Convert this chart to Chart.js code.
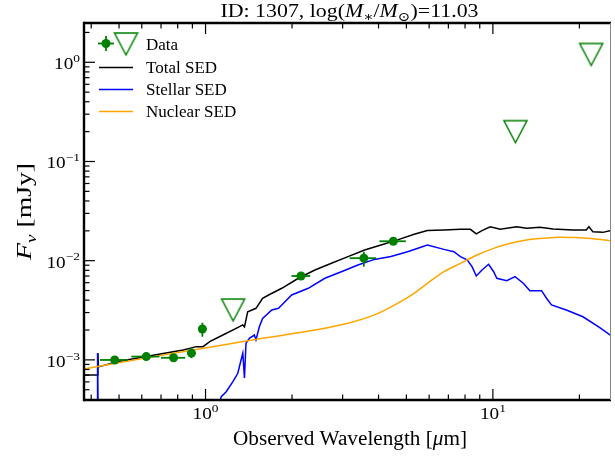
<!DOCTYPE html>
<html>
<head>
<meta charset="utf-8">
<script src="https://cdn.jsdelivr.net/npm/chart.js@4.4.0/dist/chart.umd.min.js"></script>
<style>
  html, body { margin: 0; padding: 0; background: #fff; }
</style>
</head>
<body>
<canvas id="sed" width="615" height="457"></canvas>
<script>
// photometry (mJy) with x/y error ranges
var dataWave   = [0.483, 0.622, 0.774, 0.893, 0.975, 2.149, 3.556, 4.503];
var dataFlux   = [9.98e-4, 1.08e-3, 1.05e-3, 1.17e-3, 2.05e-3, 7.01e-3, 1.06e-2, 1.57e-2];
var dataWaveLo = [0.429, 0.552, 0.700, 0.865, 0.942, 1.990, 3.174, 4.030];
var dataWaveHi = [0.536, 0.691, 0.850, 0.925, 1.010, 2.314, 3.921, 4.979];
var dataFluxLo = [9.98e-4, 1.08e-3, 1.05e-3, 1.04e-3, 1.71e-3, 6.75e-3, 8.70e-3, 1.57e-2];
var dataFluxHi = [9.98e-4, 1.08e-3, 1.05e-3, 1.31e-3, 2.37e-3, 7.30e-3, 1.23e-2, 1.57e-2];

// upper limits
var limitWave = [1.247, 11.98, 21.98];
var limitFlux = [3.18e-3, 0.200, 1.20];

// model SEDs
var totalWave = [0.3775, 0.420, 0.422, 0.424, 0.492, 0.642, 0.836, 0.929, 0.980, 1.034, 1.149, 1.278, 1.348, 1.366, 1.402,
  1.498, 1.580, 1.657, 1.842, 2.104, 2.403, 2.742, 3.131, 3.576, 4.080, 4.660, 5.322, 5.916, 6.756, 7.709, 8.35, 8.755,
  9.163, 9.788, 10.60, 12.10, 13.10, 14.57, 16.21, 19.00, 21.13, 21.58, 22.28, 24.12, 25.6];
var totalFlux = [7.05e-4, 7.05e-4, 1.17e-3, 8.5e-4, 9.59e-4, 1.10e-3, 1.26e-3, 1.36e-3, 1.36e-3, 1.53e-3, 1.78e-3, 2.08e-3,
  2.25e-3, 2.15e-3, 3.06e-3, 3.31e-3, 4.18e-3, 4.51e-3, 5.27e-3, 6.65e-3, 8.05e-3, 9.42e-3, 1.10e-2, 1.28e-2, 1.44e-2,
  1.62e-2, 1.85e-2, 2.01e-2, 2.04e-2, 2.07e-2, 2.07e-2, 1.86e-2, 2.01e-2, 2.20e-2, 2.07e-2, 2.20e-2, 2.12e-2, 2.17e-2,
  2.09e-2, 2.04e-2, 2.04e-2, 2.20e-2, 1.96e-2, 1.93e-2, 2.01e-2];

var stellarWave = [0.3775, 0.4195, 0.421, 0.4235, 1.10, 1.134, 1.180, 1.245, 1.295, 1.329, 1.348, 1.366, 1.383, 1.421,
  1.479, 1.498, 1.539, 1.580, 1.701, 1.794, 1.842, 1.994, 2.278, 2.601, 2.969, 3.391, 3.872, 4.418, 5.046, 5.916, 6.756,
  7.315, 7.709, 8.133, 8.463, 8.755, 9.163, 9.662, 10.06, 10.32, 11.18, 11.94, 12.76, 13.45, 14.77, 15.37, 15.99, 18.01,
  20.58, 23.48, 25.63];
var stellarFlux = [2.0e-4, 2.0e-4, 1.17e-3, 2.0e-4, 3.0e-4, 4.26e-4, 4.78e-4, 6.03e-4, 7.33e-4, 9.98e-4, 1.17e-3, 6.57e-4,
  1.47e-3, 1.65e-3, 1.78e-3, 1.59e-3, 2.16e-3, 2.62e-3, 3.18e-3, 3.31e-3, 3.58e-3, 4.51e-3, 5.27e-3, 6.65e-3, 7.74e-3,
  9.06e-3, 1.03e-2, 1.10e-2, 1.23e-2, 1.44e-2, 1.30e-2, 1.23e-2, 1.10e-2, 1.02e-2, 8.71e-3, 7.01e-3, 8.05e-3, 9.20e-3,
  7.74e-3, 6.65e-3, 6.28e-3, 6.90e-3, 5.92e-3, 4.99e-3, 4.99e-3, 4.18e-3, 3.58e-3, 3.18e-3, 2.72e-3, 2.13e-3, 1.78e-3];

var nuclearWave = [0.3775, 0.638, 1.0, 1.58, 2.40, 3.13, 3.87, 4.66, 5.32, 5.92, 6.76, 7.71, 8.81, 10.05, 11.5, 13.1,
  15.0, 17.1, 19.5, 22.3, 25.6];
var nuclearFlux = [8.09e-4, 1.06e-3, 1.32e-3, 1.65e-3, 2.0e-3, 2.34e-3, 2.84e-3, 3.72e-3, 4.69e-3, 5.92e-3, 7.74e-3,
  9.41e-3, 1.14e-2, 1.33e-2, 1.50e-2, 1.62e-2, 1.68e-2, 1.72e-2, 1.71e-2, 1.66e-2, 1.59e-2];

// axes
var xMin = 0.3776, xMax = 25.56;
var yMin = 3.94e-4, yMax = 2.49;
var xMajorTicks = [1, 10];
var xTickExps = ['0', '1'];
var xMinorTicks = [0.4, 0.5, 0.6, 0.7, 0.8, 0.9, 2, 3, 4, 5, 6, 7, 8, 9, 20];
var yMajorTicks = [1e-3, 1e-2, 1e-1, 1];
var yTickExps = ['\u22123', '\u22122', '\u22121', '0'];
var yMinorTicks = [5e-4, 6e-4, 7e-4, 8e-4, 9e-4, 2e-3, 3e-3, 4e-3, 5e-3, 6e-3, 7e-3, 8e-3, 9e-3,
  2e-2, 3e-2, 4e-2, 5e-2, 6e-2, 7e-2, 8e-2, 9e-2, 0.2, 0.3, 0.4, 0.5, 0.6, 0.7, 0.8, 0.9, 2];

var GREEN = '#008000';
var FONT = '"Liberation Serif", "DejaVu Serif", serif';

function pairs(xs, ys) {
    return xs.map(function(v, i) { return {x: v, y: ys[i]}; });
}

function makeTriangle(w, h, lw) {
    var c = document.createElement('canvas');
    c.width = w + 4; c.height = h + 4;
    var g = c.getContext('2d');
    g.strokeStyle = GREEN; g.lineWidth = lw;
    g.beginPath();
    g.moveTo(2, 2); g.lineTo(w + 2, 2); g.lineTo(w / 2 + 2, h + 2);
    g.closePath(); g.stroke();
    return c;
}
var triangle = makeTriangle(23, 22, 1.5);

// rich text: parts = [{t, it, sub, sup}]
function partFont(p, size) {
    var s = (p.sub || p.sup) ? size * 0.7 : size;
    return (p.it ? 'italic ' : '') + s.toFixed(1) + 'px ' + FONT;
}
function richWidth(ctx, parts, size) {
    var w = 0;
    parts.forEach(function(p) { ctx.font = partFont(p, size); w += ctx.measureText(p.t).width; });
    return w;
}
function drawRich(ctx, parts, x, y, size, align, fitW, rot, stretch) {
    var raw = richWidth(ctx, parts, size);
    var sx = fitW ? fitW / raw : (stretch || 1);
    var w = raw * sx;
    ctx.save();
    ctx.translate(x, y);
    if (rot) ctx.rotate(rot);
    var start = align === 'center' ? -w / 2 : (align === 'right' ? -w : 0);
    ctx.translate(start, 0);
    ctx.scale(sx, 1);
    ctx.textBaseline = 'alphabetic';
    ctx.textAlign = 'left';
    ctx.fillStyle = '#000';
    var px = 0;
    parts.forEach(function(p) {
        ctx.font = partFont(p, size);
        var dy = p.sub ? size * 0.22 : (p.sup ? -size * 0.45 : 0);
        ctx.fillText(p.t, px, dy);
        px += ctx.measureText(p.t).width;
    });
    ctx.restore();
}

function seg(ctx, x1, y1, x2, y2) {
    ctx.beginPath(); ctx.moveTo(x1, y1); ctx.lineTo(x2, y2); ctx.stroke();
}

var errorBars = {
    id: 'errorBars',
    afterDatasetsDraw: function(chart) {
        var ctx = chart.ctx, x = chart.scales.x, y = chart.scales.y;
        ctx.save();
        ctx.strokeStyle = GREEN;
        ctx.lineWidth = 1.8;
        dataWave.forEach(function(w, i) {
            var px = x.getPixelForValue(w), py = y.getPixelForValue(dataFlux[i]);
            seg(ctx, x.getPixelForValue(dataWaveLo[i]), py, x.getPixelForValue(dataWaveHi[i]), py);
            seg(ctx, px, y.getPixelForValue(dataFluxLo[i]), px, y.getPixelForValue(dataFluxHi[i]));
        });
        ctx.restore();
    }
};

var decorations = {
    id: 'decorations',
    afterDraw: function(chart) {
        var ctx = chart.ctx, a = chart.chartArea, x = chart.scales.x, y = chart.scales.y;
        ctx.save();
        ctx.strokeStyle = '#000';
        ctx.lineWidth = 1.2;
        xMajorTicks.forEach(function(v) {
            var p = x.getPixelForValue(v);
            seg(ctx, p, a.bottom, p, a.bottom - 11);
            seg(ctx, p, a.top, p, a.top + 11);
        });
        xMinorTicks.forEach(function(v) {
            var p = x.getPixelForValue(v);
            seg(ctx, p, a.bottom, p, a.bottom - 5.5);
            seg(ctx, p, a.top, p, a.top + 5.5);
        });
        yMajorTicks.forEach(function(v) {
            var p = y.getPixelForValue(v);
            seg(ctx, a.left, p, a.left + 11, p);
        });
        yMinorTicks.forEach(function(v) {
            var p = y.getPixelForValue(v);
            seg(ctx, a.left, p, a.left + 5.5, p);
        });
        // frame
        ctx.lineWidth = 2.4;
        seg(ctx, a.left, a.bottom, a.right + 1, a.bottom);
        seg(ctx, a.left, a.top, a.right + 1, a.top);
        seg(ctx, a.left, a.top - 1.2, a.left, a.bottom + 1.2);
        ctx.strokeStyle = '#888';
        ctx.lineWidth = 1;
        seg(ctx, a.right + 0.5, a.top, a.right + 0.5, a.bottom);

        // tick labels
        yMajorTicks.forEach(function(v, i) {
            drawRich(ctx, [{t: '10'}, {t: yTickExps[i], sup: true}], a.left - 4, y.getPixelForValue(v) + 7,
                16, 'right', null, 0, 1.2);
        });
        xMajorTicks.forEach(function(v, i) {
            drawRich(ctx, [{t: '10'}, {t: xTickExps[i], sup: true}], x.getPixelForValue(v), a.bottom + 19,
                16, 'center', null, 0, 1.2);
        });

        // title and axis labels
        drawRich(ctx, [{t: 'ID: 1307, log('}, {t: 'M', it: true}, {t: '\u2217', sub: true}, {t: '/'},
            {t: 'M', it: true}, {t: '\u2299', sub: true}, {t: ')=11.03'}], 349.5, 17, 18.5, 'center', 258);
        drawRich(ctx, [{t: 'Observed Wavelength ['}, {t: '\u03bc', it: true}, {t: 'm]'}], 350, 445, 20, 'center', 234);
        drawRich(ctx, [{t: 'F', it: true}, {t: '\u03bd', it: true, sub: true}, {t: ' [mJy]'}], 31, 211.5, 21, 'center', 97, -Math.PI / 2);

        // legend
        ctx.strokeStyle = GREEN;
        ctx.fillStyle = GREEN;
        ctx.lineWidth = 1.8;
        seg(ctx, 98, 43.5, 114, 43.5);
        seg(ctx, 106, 36, 106, 51);
        ctx.beginPath(); ctx.arc(106, 43.5, 4.5, 0, Math.PI * 2); ctx.fill();
        ctx.drawImage(triangle, 126 - triangle.width / 2, 44 - triangle.height / 2);
        var handles = [['#000', 67.5], ['#0000ff', 89.5], ['#ffa500', 111.5]];
        ctx.lineWidth = 1.5;
        handles.forEach(function(h) { ctx.strokeStyle = h[0]; seg(ctx, 99, h[1], 133, h[1]); });
        drawRich(ctx, [{t: 'Data'}], 146, 49.5, 17, 'left');
        drawRich(ctx, [{t: 'Total SED'}], 146, 72.5, 17, 'left');
        drawRich(ctx, [{t: 'Stellar SED'}], 146, 95, 17, 'left');
        drawRich(ctx, [{t: 'Nuclear SED'}], 146, 117, 17, 'left');
        ctx.restore();
    }
};

var ctx = document.getElementById('sed').getContext('2d');
var sedChart = new Chart(ctx, {
    type: 'line',
    data: {
        datasets: [{
            label: 'Data',
            data: pairs(dataWave, dataFlux),
            showLine: false,
            pointRadius: 4.5,
            pointBackgroundColor: GREEN,
            pointBorderWidth: 0,
            order: 0
        }, {
            label: 'Upper limits',
            data: pairs(limitWave, limitFlux),
            showLine: false,
            pointStyle: triangle,
            order: 0
        }, {
            label: 'Total SED',
            data: pairs(totalWave, totalFlux),
            borderColor: '#000',
            borderWidth: 1.5,
            pointRadius: 0,
            order: 3
        }, {
            label: 'Stellar SED',
            data: pairs(stellarWave, stellarFlux),
            borderColor: '#0000ff',
            borderWidth: 1.5,
            pointRadius: 0,
            order: 2
        }, {
            label: 'Nuclear SED',
            data: pairs(nuclearWave, nuclearFlux),
            borderColor: '#ffa500',
            borderWidth: 1.5,
            pointRadius: 0,
            cubicInterpolationMode: 'monotone',
            order: 1
        }]
    },
    options: {
        responsive: false,
        animation: false,
        layout: { padding: { left: 84, top: 23, right: 1, bottom: 57 } },
        plugins: { legend: { display: false }, tooltip: { enabled: false } },
        scales: {
            x: { type: 'logarithmic', min: xMin, max: xMax, display: false },
            y: { type: 'logarithmic', min: yMin, max: yMax, display: false }
        }
    },
    plugins: [errorBars, decorations]
});
</script>
</body>
</html>
